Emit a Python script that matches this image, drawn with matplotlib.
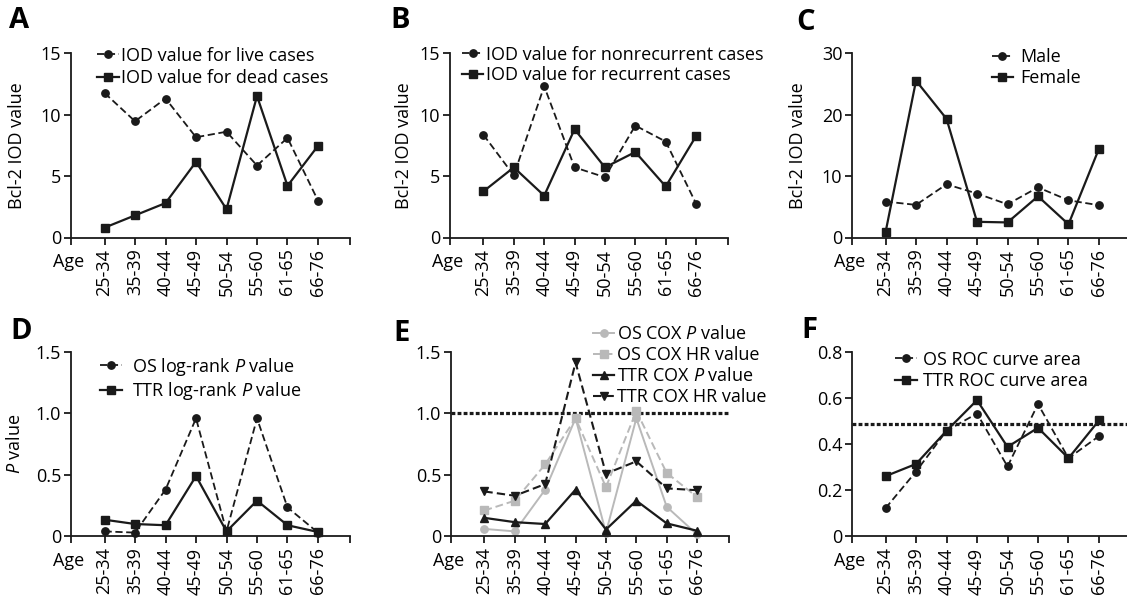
import matplotlib.pyplot as plt

plt.rcParams["font.family"] = ["Open Sans", "DejaVu Sans"]
plt.rcParams["mathtext.fontset"] = "custom"
plt.rcParams["mathtext.rm"] = "Open Sans"
plt.rcParams["mathtext.it"] = "Open Sans:italic"

ages = ["25-34", "35-39", "40-44", "45-49", "50-54", "55-60", "61-65", "66-76"]

# A: Bcl-2 IOD by survival
live_iod = [11.75, 9.45, 11.3, 8.15, 8.6, 5.85, 8.1, 3.0]
dead_iod = [0.8, 1.8, 2.8, 6.15, 2.3, 11.5, 4.2, 7.45]

# B: Bcl-2 IOD by recurrence
nonrec_iod = [8.35, 5.05, 12.3, 5.7, 4.9, 9.1, 7.8, 2.75]
rec_iod = [3.75, 5.7, 3.4, 8.8, 5.7, 6.95, 4.15, 8.25]

# C: Bcl-2 IOD by sex
male_iod = [5.85, 5.3, 8.65, 7.15, 5.4, 8.15, 6.05, 5.25]
female_iod = [0.85, 25.5, 19.3, 2.55, 2.45, 6.7, 2.15, 14.45]

# D: log-rank P values
os_logrank_p = [0.04, 0.03, 0.38, 0.96, 0.04, 0.96, 0.235, 0.03]
ttr_logrank_p = [0.135, 0.1, 0.09, 0.49, 0.04, 0.29, 0.09, 0.035]

# E: COX values
os_cox_p = [0.06, 0.04, 0.38, 0.96, 0.03, 0.96, 0.24, 0.015]
os_cox_hr = [0.21, 0.29, 0.585, 0.96, 0.4, 1.02, 0.515, 0.32]
ttr_cox_p = [0.15, 0.115, 0.1, 0.38, 0.055, 0.29, 0.105, 0.045]
ttr_cox_hr = [0.365, 0.33, 0.425, 1.415, 0.51, 0.61, 0.39, 0.375]
hr_reference = 1.0

# F: ROC curve areas
os_roc = [0.122, 0.281, 0.458, 0.533, 0.303, 0.574, 0.339, 0.435]
ttr_roc = [0.261, 0.314, 0.458, 0.591, 0.388, 0.471, 0.339, 0.503]
roc_reference = 0.488

FIG_W, FIG_H = 1127, 601
XLIM = (-0.1, 9.05)
FS = 13
INK = "#1a1a1a"
GREY = "#b9b9b9"
DASH = (0, (4, 2))
DOT = (0, (1.2, 0.7))

positions = list(range(1, len(ages) + 1))

fig = plt.figure(figsize=(FIG_W / 100, FIG_H / 100), dpi=100)


def make_axes(left_px, top_px, bottom_px, width_px=279):
    rect = [left_px / FIG_W, 1 - bottom_px / FIG_H,
            width_px / FIG_W, (bottom_px - top_px) / FIG_H]
    ax = fig.add_axes(rect)
    for side in ("top", "right"):
        ax.spines[side].set_visible(False)
    for side in ("left", "bottom"):
        ax.spines[side].set_linewidth(1.3)
        ax.spines[side].set_color(INK)
    ax.set_xlim(*XLIM)
    ax.set_xticks(positions, ages, rotation=90)
    ax.set_xticks(list(XLIM), minor=True)
    ax.tick_params(which="both", direction="out", length=5, width=1.3,
                   color=INK, labelsize=FS, pad=2)
    ax.tick_params(axis="x", pad=3)
    ax.text(-0.01, -0.135, "Age", transform=ax.transAxes, ha="center",
            va="center", fontsize=FS)
    return ax


def set_y(ax, ticks, labels, ylabel=None, label_x=-0.19):
    ax.set_ylim(ticks[0], ticks[-1])
    ax.set_yticks(ticks, labels)
    if ylabel:
        ax.set_ylabel(ylabel, fontsize=FS)
        ax.yaxis.label.set_va("center")
        ax.yaxis.set_label_coords(label_x, 0.5)


def series(ax, values, marker, ms, dashed=False, color=INK, lw=1.6, label=None):
    return ax.plot(positions, values, color=color, lw=lw,
                   ls=DASH if dashed else "-", marker=marker, ms=ms,
                   mfc=color, mec=color, label=label, clip_on=False)[0]


def legend(ax, x, y, spacing=0.25, textpad=0.15):
    ax.legend(loc="upper left", bbox_to_anchor=(x, y), frameon=False,
              borderpad=0, borderaxespad=0, handlelength=1.2,
              handletextpad=textpad, labelspacing=spacing, fontsize=FS)


def panel_letter(x_px, y_px, letter):
    fig.text(x_px / FIG_W, 1 - y_px / FIG_H, letter, fontsize=21,
             fontweight="bold", ha="left", va="top")


# A
ax = make_axes(71, 53, 237.5)
set_y(ax, [0, 5, 10, 15], ["0", "5", "10", "15"], "Bcl-2 IOD value", -0.195)
series(ax, live_iod, "o", 5.3, dashed=True, lw=1.3, label="IOD value for live cases")
series(ax, dead_iod, "s", 5.8, label="IOD value for dead cases")
legend(ax, 0.093, 1.035, spacing=0.26)
panel_letter(9, 6, "A")

# B
ax = make_axes(450, 53, 237.5, 278)
set_y(ax, [0, 5, 10, 15], ["0", "5", "10", "15"], "Bcl-2 IOD value", -0.167)
series(ax, nonrec_iod, "o", 5.3, dashed=True, lw=1.3,
       label="IOD value for nonrecurrent cases")
series(ax, rec_iod, "s", 5.8, label="IOD value for recurrent cases")
legend(ax, 0.042, 1.04, spacing=0.15)
panel_letter(390, 6, "B")

# C
ax = make_axes(852, 53, 237.5)
set_y(ax, [0, 10, 20, 30], ["0", "10", "20", "30"], "Bcl-2 IOD value", -0.195)
series(ax, male_iod, "o", 5.3, dashed=True, lw=1.3, label="Male")
series(ax, female_iod, "s", 5.8, label="Female")
legend(ax, 0.50, 1.028, spacing=0.2, textpad=0.4)
panel_letter(796, 8, "C")

# D
ax = make_axes(71, 352, 536.3)
set_y(ax, [0, 0.5, 1.0, 1.5], ["0", "0.5", "1.0", "1.5"], r"$\mathit{P}$ value", -0.2)
series(ax, os_logrank_p, "o", 5.3, dashed=True, lw=1.3,
       label=r"OS log-rank $\mathit{P}$ value")
series(ax, ttr_logrank_p, "s", 5.8, label=r"TTR log-rank $\mathit{P}$ value")
legend(ax, 0.104, 0.98, spacing=0.12, textpad=0.55)
panel_letter(10, 317, "D")

# E
ax = make_axes(451, 352, 536.3, 278)
set_y(ax, [0, 0.5, 1.0, 1.5], ["0", "0.5", "1.0", "1.5"])
ax.axhline(hr_reference, color=INK, lw=2.3, ls=DOT)
series(ax, os_cox_p, "o", 5.3, color=GREY, lw=1.4, label=r"OS COX $\mathit{P}$ value")
series(ax, os_cox_hr, "s", 5.8, dashed=True, color=GREY, lw=1.4,
       label="OS COX HR value")
series(ax, ttr_cox_p, "^", 5.8, label=r"TTR COX $\mathit{P}$ value")
series(ax, ttr_cox_hr, "v", 5.8, dashed=True, lw=1.5, label="TTR COX HR value")
legend(ax, 0.51, 1.145, spacing=0.16)
panel_letter(393, 319, "E")

# F
ax = make_axes(852, 352, 536.3)
set_y(ax, [0, 0.2, 0.4, 0.6, 0.8], ["0", "0.2", "0.4", "0.6", "0.8"])
ax.axhline(roc_reference, color=INK, lw=2.3, ls=DOT)
series(ax, os_roc, "o", 5.3, dashed=True, lw=1.3, label="OS ROC curve area")
series(ax, ttr_roc, "s", 5.8, label="TTR ROC curve area")
legend(ax, 0.154, 1.008, spacing=0.2, textpad=0.35)
panel_letter(801, 316, "F")

fig.savefig("out.png", dpi=100)
